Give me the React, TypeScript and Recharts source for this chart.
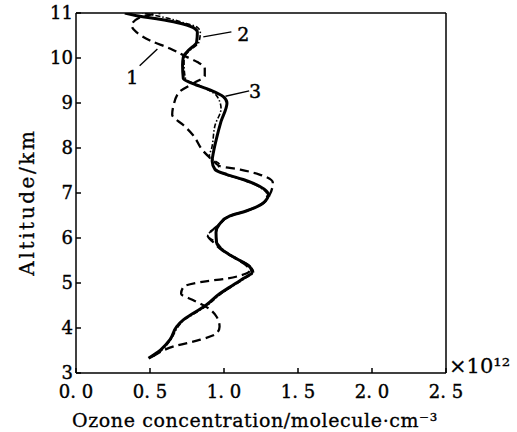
import { LineChart, Line, XAxis, YAxis, ReferenceLine, ReferenceDot } from 'recharts';

// profile 1 (dashed)
const alt1 = [3.37, 3.59, 3.74, 3.88, 4.03, 4.25, 4.47, 4.62, 4.76, 4.91, 5.02, 5.10, 5.21, 5.28, 5.39, 5.54, 5.72, 5.90, 6.05, 6.20, 6.31, 6.49, 6.60, 6.79, 6.97, 7.23, 7.41, 7.52, 7.60, 7.71, 7.93, 8.29, 8.51, 8.74, 8.96, 9.25, 9.45, 9.60, 9.78, 9.91, 10.02, 10.21, 10.39, 10.57, 10.72, 10.90, 11.0];
const conc1 = [0.52, 0.66, 0.84, 0.95, 0.97, 0.95, 0.88, 0.79, 0.71, 0.725, 0.84, 1.02, 1.15, 1.175, 1.15, 1.08, 0.99, 0.93, 0.89, 0.93, 0.97, 1.04, 1.15, 1.27, 1.31, 1.33, 1.24, 1.11, 0.97, 0.93, 0.86, 0.79, 0.725, 0.65, 0.66, 0.70, 0.80, 0.87, 0.87, 0.82, 0.75, 0.635, 0.50, 0.41, 0.376, 0.43, 0.57];

// profile 2 (dash-dot)
const alt2 = [3.33, 3.51, 3.74, 4.03, 4.18, 4.32, 4.51, 4.76, 4.91, 5.10, 5.24, 5.39, 5.54, 5.72, 5.90, 6.05, 6.20, 6.31, 6.49, 6.60, 6.79, 6.97, 7.15, 7.30, 7.41, 7.52, 7.63, 7.80, 8.00, 8.51, 8.88, 9.16, 9.38, 9.54, 9.84, 10.02, 10.17, 10.35, 10.57, 10.68, 10.79, 10.90, 11.0];
const conc2 = [0.50, 0.58, 0.64, 0.69, 0.73, 0.80, 0.89, 0.98, 1.05, 1.14, 1.20, 1.17, 1.09, 1.0, 0.95, 0.89, 0.93, 0.97, 1.04, 1.15, 1.27, 1.29, 1.23, 1.12, 1.01, 0.95, 0.97, 0.90, 0.917, 0.94, 0.98, 0.95, 0.84, 0.74, 0.73, 0.73, 0.77, 0.83, 0.84, 0.82, 0.72, 0.60, 0.45];

// profile 3 (solid)
const alt3 = [3.33, 3.51, 3.74, 4.03, 4.18, 4.32, 4.51, 4.76, 4.91, 5.10, 5.24, 5.39, 5.54, 5.72, 5.90, 6.12, 6.31, 6.49, 6.60, 6.79, 6.97, 7.15, 7.30, 7.41, 7.52, 7.71, 7.93, 8.22, 8.59, 9.0, 9.14, 9.29, 9.43, 9.54, 9.84, 10.02, 10.17, 10.35, 10.57, 10.68, 10.79, 10.87, 10.94, 11.0];
const conc3 = [0.49, 0.57, 0.635, 0.68, 0.725, 0.79, 0.88, 0.97, 1.04, 1.13, 1.19, 1.165, 1.085, 0.995, 0.95, 0.946, 0.97, 1.04, 1.15, 1.27, 1.30, 1.24, 1.13, 1.02, 0.94, 0.92, 0.93, 0.95, 0.98, 1.02, 0.995, 0.905, 0.79, 0.725, 0.72, 0.725, 0.76, 0.815, 0.82, 0.79, 0.68, 0.545, 0.41, 0.33];

const xTicks = [0, 0.5, 1.0, 1.5, 2.0, 2.5];
const yTicks = [3, 4, 5, 6, 7, 8, 9, 10, 11];

// curve labels: [text, labelX, labelY, leaderFromX, leaderFromY, leaderToX, leaderToY]
const curveLabels: [string, number, number, number, number, number, number][] = [
  ['1', 0.38, 9.58, 0.43, 9.83, 0.55, 10.2],
  ['2', 1.13, 10.52, 1.05, 10.58, 0.86, 10.47],
  ['3', 1.21, 9.26, 1.17, 9.27, 1.01, 9.15],
];

const toRows = (alt: number[], conc: number[]) => alt.map((a, i) => ({ alt: a, conc: conc[i] }));
const data1 = toRows(alt1, conc1);
const data2 = toRows(alt2, conc2);
const data3 = toRows(alt3, conc3);

const FONT = '"DejaVu Serif", "Liberation Serif", serif';

const XTick = ({ x, y, payload }: any) => (
  <g>
    <line x1={x} y1={y} x2={x} y2={y - 5} stroke="#000" strokeWidth={1.5} />
    <text x={x} y={y + 25} textAnchor="middle" fontFamily={FONT} fontSize={18} fill="#000" stroke="#000" strokeWidth={0.4}>
      {Number(payload.value).toFixed(1).replace('.', '. ')}
    </text>
  </g>
);

const YTick = ({ x, y, payload }: any) => (
  <g>
    <line x1={x} y1={y} x2={x + 5} y2={y} stroke="#000" strokeWidth={1.5} />
    <text x={x - 3} y={y + 6} textAnchor="end" fontFamily={FONT} fontSize={18} fill="#000" stroke="#000" strokeWidth={0.4}>
      {payload.value}
    </text>
  </g>
);

export default function App() {
  return (
    <div style={{ position: 'absolute', left: 0, top: 0, background: '#fff' }}>
      <LineChart width={517} height={432} margin={{ top: 13, right: 71, left: 0, bottom: 0 }}>
        <XAxis
          type="number"
          dataKey="conc"
          domain={[0, 2.5]}
          ticks={xTicks}
          height={59}
          tickSize={0}
          tickMargin={0}
          tickLine={false}
          axisLine={{ stroke: '#000', strokeWidth: 1.5 }}
          tick={<XTick />}
          allowDataOverflow
          label={{
            value: 'Ozone concentration/molecule·cm⁻³',
            position: 'center',
            dy: 18,
            dx: -6,
            fontFamily: FONT,
            fontSize: 19,
            letterSpacing: 0.6,
            fill: '#000',
            stroke: '#000',
            strokeWidth: 0.3,
          }}
        />
        <YAxis
          type="number"
          domain={[3, 11]}
          ticks={yTicks}
          width={76}
          tickSize={0}
          tickMargin={0}
          tickLine={false}
          axisLine={{ stroke: '#000', strokeWidth: 1.5 }}
          tick={<YTick />}
          allowDataOverflow
          label={{
            value: 'Altitude/km',
            angle: -90,
            position: 'center',
            dx: -11,
            dy: 9,
            fontFamily: FONT,
            fontSize: 20,
            letterSpacing: 2.6,
            fill: '#000',
            stroke: '#000',
            strokeWidth: 0.3,
          }}
        />
        <ReferenceLine y={11} stroke="#000" strokeWidth={1.5} />
        <ReferenceLine x={2.5} stroke="#000" strokeWidth={1.5} />
        <Line
          data={data1}
          dataKey="alt"
          type="monotoneY"
          stroke="#000"
          strokeWidth={2.3}
          strokeDasharray="9 5"
          dot={false}
          isAnimationActive={false}
        />
        <Line
          data={data2}
          dataKey="alt"
          type="monotoneY"
          stroke="#000"
          strokeWidth={1.6}
          strokeDasharray="5 2 1.5 2"
          dot={false}
          isAnimationActive={false}
        />
        <Line
          data={data3}
          dataKey="alt"
          type="monotoneY"
          stroke="#000"
          strokeWidth={3}
          dot={false}
          isAnimationActive={false}
        />
        {curveLabels.map(([t, lx, ly, fx, fy, tx, ty]) => (
          <ReferenceLine
            key={'l' + t}
            segment={[{ x: fx, y: fy }, { x: tx, y: ty }]}
            stroke="#000"
            strokeWidth={1.4}
          />
        ))}
        {curveLabels.map(([t, lx, ly]) => (
          <ReferenceDot
            key={'d' + t}
            x={lx}
            y={ly}
            r={0}
            stroke="none"
            fill="none"
            label={{ value: t, position: 'center', fontFamily: FONT, fontSize: 19, fill: '#000', stroke: '#000', strokeWidth: 0.4 }}
          />
        ))}
        <ReferenceDot
          x={2.5}
          y={3}
          r={0}
          stroke="none"
          fill="none"
          label={{ value: '×10¹²', position: 'right', dy: -7, offset: 3, fontFamily: FONT, fontSize: 21, fill: '#000', stroke: '#000', strokeWidth: 0.3 }}
        />
      </LineChart>
    </div>
  );
}
